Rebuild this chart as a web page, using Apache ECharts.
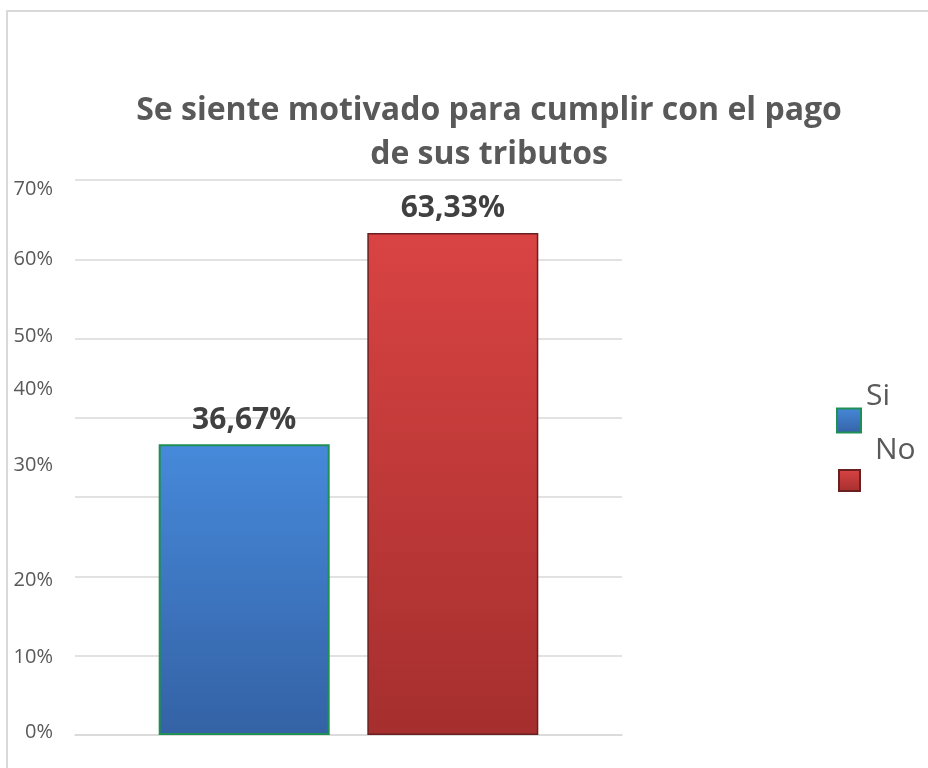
<!DOCTYPE html>
<html>
<head>
<meta charset="utf-8">
<title>Se siente motivado para cumplir con el pago de sus tributos</title>
<script src="https://cdn.jsdelivr.net/npm/echarts@6/dist/echarts.min.js"></script>
<style>
    html, body { margin: 0; padding: 0; background: #ffffff; }
    #chart { width: 928px; height: 768px; }
</style>
</head>
<body>
<div id="chart"></div>
<script>
// Survey answers (percent of respondents)
const categories = [''];
const seriesNames = ['Si', 'No'];
const siValues = [36.67];
const noValues = [63.33];
const yTicks = [0, 10, 20, 30, 40, 50, 60, 70];

// The original axis labels sit a little off their gridlines; nudge them the same way (px, + = down)
const labelNudge = { 0: -3, 10: 2, 20: 4, 30: -32, 40: -29, 50: -2, 60: 0, 70: 9 };

const FONT = 'Open Sans';
const TEXT_GRAY = '#595959';

function pctLabel(v) {
    return v.toFixed(2).replace('.', ',') + '%';
}

function grad(top, bottom) {
    return new echarts.graphic.LinearGradient(0, 0, 0, 1, [
        { offset: 0, color: top },
        { offset: 1, color: bottom }
    ]);
}

// rich styles to shift each tick label up/down
const rich = {};
yTicks.forEach(function (t) {
    const d = labelNudge[t] || 0;
    rich['t' + t] = {
        fontFamily: FONT,
        fontSize: 20,
        color: TEXT_GRAY,
        padding: d >= 0 ? [2 * d, 0, 0, 0] : [0, 0, -2 * d, 0]
    };
});

function legendText(padding) {
    return {
        formatter: '{a|{name}}',
        textStyle: {
            rich: {
                a: { fontFamily: FONT, fontSize: 30, color: TEXT_GRAY, padding: padding }
            }
        }
    };
}

const chart = echarts.init(document.getElementById('chart'));

const option = {
    backgroundColor: '#ffffff',
    animation: false,
    title: {
        text: 'Se siente motivado para cumplir con el pago\nde sus tributos',
        left: 484,
        top: 84,
        textAlign: 'center',
        textStyle: {
            fontFamily: FONT,
            fontWeight: 'bold',
            fontSize: 32,
            lineHeight: 44,
            color: TEXT_GRAY
        }
    },
    graphic: [{
        type: 'rect',
        shape: { x: 7, y: 11, width: 1000, height: 1000 },
        style: { fill: 'none', stroke: '#d9d9d9', lineWidth: 2 },
        z: -1
    }],
    legend: [
        Object.assign({
            data: [seriesNames[0]],
            left: 836,
            top: 381,
            padding: 0,
            icon: 'rect',
            itemWidth: 24,
            itemHeight: 24
        }, legendText([0, 0, 49, 0])),
        Object.assign({
            data: [seriesNames[1]],
            left: 838,
            top: 435,
            padding: 0,
            icon: 'rect',
            itemWidth: 21,
            itemHeight: 21
        }, legendText([0, 0, 61, 10]))
    ],
    grid: {
        left: 75,
        right: 306,
        top: 180,
        bottom: 33,
        containLabel: false
    },
    xAxis: {
        type: 'category',
        data: categories,
        axisLine: { lineStyle: { color: '#d9d9d9', width: 1.5 } },
        axisTick: { show: false },
        axisLabel: { show: false }
    },
    yAxis: {
        type: 'value',
        min: 0,
        max: 70,
        interval: 10,
        axisLine: { show: false },
        axisTick: { show: false },
        splitLine: { lineStyle: { color: '#d9d9d9', width: 1.5 } },
        axisLabel: {
            margin: 22,
            formatter: function (v) {
                return '{t' + v + '|' + v + '%}';
            },
            rich: rich
        }
    },
    series: [
        {
            name: seriesNames[0],
            type: 'bar',
            data: siValues,
            barWidth: 171,
            barGap: '22%',
            itemStyle: {
                color: grad('#4689da', '#3462a5'),
                borderColor: '#1e8f55',
                borderWidth: 2
            },
            label: {
                show: true,
                position: 'top',
                distance: 9,
                formatter: function (p) { return pctLabel(p.value); },
                fontFamily: FONT,
                fontWeight: 'bold',
                fontSize: 30,
                color: '#404040'
            }
        },
        {
            name: seriesNames[1],
            type: 'bar',
            data: noValues,
            barWidth: 171,
            itemStyle: {
                color: grad('#d94343', '#a52f2e'),
                borderColor: '#6a2020',
                borderWidth: 1.5
            },
            label: {
                show: true,
                position: 'top',
                distance: 9,
                formatter: function (p) { return pctLabel(p.value); },
                fontFamily: FONT,
                fontWeight: 'bold',
                fontSize: 30,
                color: '#404040'
            }
        }
    ]
};

chart.setOption(option);
</script>
</body>
</html>
